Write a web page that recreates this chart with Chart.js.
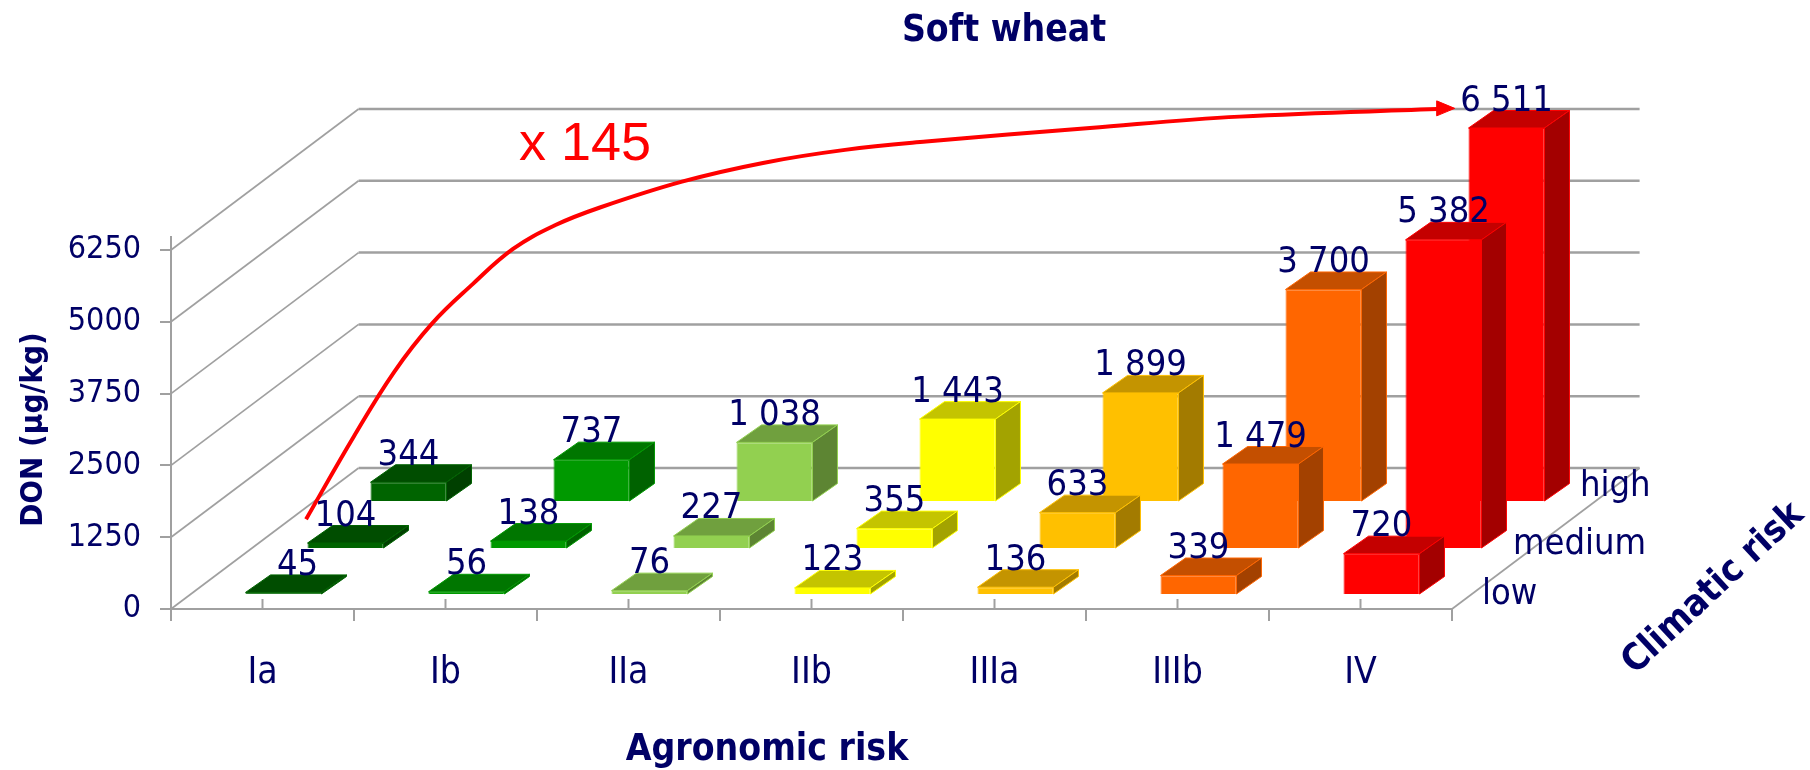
<!DOCTYPE html>
<html>
<head>
<meta charset="utf-8">
<title>Soft wheat</title>
<script src="https://cdn.jsdelivr.net/npm/chart.js@4/dist/chart.umd.min.js"></script>
<style>
  html, body { margin: 0; background: #fff; }
  canvas { display: block; }
</style>
</head>
<body>
<canvas id="wheatChart" width="1810" height="770"></canvas>
<script>
// ====== Data ======
const categories = ["Ia", "Ib", "IIa", "IIb", "IIIa", "IIIb", "IV"];
const climaticLevels = ["low", "medium", "high"];
const lowValues = [45, 56, 76, 123, 136, 339, 720];
const mediumValues = [104, 138, 227, 355, 633, 1479, 5382];
const highValues = [344, 737, 1038, 1443, 1899, 3700, 6511];
const categoryColors = ["#006400", "#009900", "#92D050", "#FFFF00", "#FFC000", "#FF6600", "#FF0000"];

// red "x 145" trend: category position / DON level
const curveX = [0.238, 0.5, 0.72, 0.926, 1.15, 1.369, 1.598, 1.844, 2.292, 2.735, 3.183, 3.626, 4.522, 5.339, 6.46];
const curveY = [1563, 3009, 4130, 4968, 5660, 6268, 6680, 6990, 7440, 7766, 7993, 8138, 8375, 8572, 8707];

const NAVY = "#000066";
const GREY = "#a0a0a0";
const TEXT_FONT = '"DejaVu Sans Condensed", "DejaVu Sans", sans-serif';

// depth of the fake 3D box
const wallDx = 187.6, wallDy = -141;
const barDx = 25, barDy = -17.5;
const seriesShift = [[21, -14], [83, -60], [146, -107]];

function shade(hex, k) {
  const n = parseInt(hex.slice(1), 16);
  const c = [n >> 16, (n >> 8) & 255, n & 255].map(v => Math.round(v * k));
  return `rgb(${c[0]},${c[1]},${c[2]})`;
}

function poly(ctx, pts, fill, stroke) {
  ctx.beginPath();
  pts.forEach((p, i) => i ? ctx.lineTo(p[0], p[1]) : ctx.moveTo(p[0], p[1]));
  ctx.closePath();
  ctx.fillStyle = fill;
  ctx.fill();
  ctx.strokeStyle = stroke;
  ctx.lineWidth = 1;
  ctx.stroke();
}

function line(ctx, x1, y1, x2, y2) {
  ctx.beginPath();
  ctx.moveTo(x1, y1);
  ctx.lineTo(x2, y2);
  ctx.stroke();
}

function text(ctx, str, x, y, font, color, align) {
  ctx.font = font;
  ctx.fillStyle = color;
  ctx.textAlign = align || "center";
  ctx.textBaseline = "alphabetic";
  ctx.fillText(str, x, y);
}

const fmt = v => String(v).replace(/\B(?=(\d{3})+$)/g, " ");

// ====== Walls, floor and extra axis marks ======
const box3d = {
  id: "box3d",
  beforeDatasetsDraw(chart) {
    const { ctx, chartArea: a } = chart;
    const yScale = chart.scales.y, xScale = chart.scales.x;
    ctx.save();
    ctx.strokeStyle = GREY;
    yScale.ticks.forEach(t => {
      const y = yScale.getPixelForValue(t.value);
      ctx.lineWidth = 1.7;
      line(ctx, a.left, y, a.left + wallDx, y + wallDy);
      ctx.lineWidth = 2.5;
      line(ctx, a.left + wallDx, y + wallDy, a.right + wallDx, y + wallDy);
    });
    ctx.lineWidth = 1.7;
    line(ctx, a.right, a.bottom, a.right + wallDx, a.bottom + wallDy);
    ctx.lineWidth = 2;
    line(ctx, a.left, a.top - 14, a.left, a.top);
    categories.forEach((c, i) => {
      const x = xScale.getPixelForTick(i);
      line(ctx, x, a.bottom, x, a.bottom - 10);
    });
    ctx.restore();
  },
  // each series sits at its own depth
  beforeDatasetDraw(chart, args) {
    if (args.meta.type !== "bar") return;
    const s = seriesShift[args.index];
    chart.ctx.save();
    chart.ctx.translate(s[0], s[1]);
  },
  afterDatasetDraw(chart, args) {
    if (args.meta.type !== "bar") return;
    const ctx = chart.ctx;
    args.meta.data.forEach((bar, i) => {
      const col = categoryColors[i];
      const l = bar.x - bar.width / 2, r = bar.x + bar.width / 2;
      poly(ctx, [[l, bar.y], [r, bar.y], [r + barDx, bar.y + barDy], [l + barDx, bar.y + barDy]], shade(col, 0.77), col);
      poly(ctx, [[r, bar.y], [r + barDx, bar.y + barDy], [r + barDx, bar.base + barDy], [r, bar.base]], shade(col, 0.64), col);
    });
    ctx.restore();
  },
  afterDatasetsDraw(chart) {
    const { ctx, chartArea: a } = chart;
    const labelFont = "36px " + TEXT_FONT;
    ctx.save();
    // value labels above the bars
    [0, 1, 2].forEach(si => {
      const s = seriesShift[si];
      chart.getDatasetMeta(si).data.forEach((bar, i) => {
        const v = chart.data.datasets[si].data[i];
        const nudge = v === 45 ? 14 : 0; // this one sits off centre in the original
        text(ctx, fmt(v), bar.x + s[0] + nudge, bar.y + s[1] + barDy, labelFont, NAVY);
      });
    });
    // arrow head at the end of the trend (points outside the chart area are not drawn)
    const tip = chart.getDatasetMeta(3).data[curveX.length - 1];
    poly(ctx, [[tip.x + 10, tip.y - 0.5], [tip.x - 8, tip.y - 8], [tip.x - 8, tip.y + 7]], "#FF0000", "#FF0000");

    // climatic risk levels along the depth axis
    const levelFont = "36px " + TEXT_FONT;
    text(ctx, climaticLevels[0], a.right + 30, a.bottom - 5, levelFont, NAVY, "left");
    text(ctx, climaticLevels[1], a.right + 61, a.bottom - 55, levelFont, NAVY, "left");
    text(ctx, climaticLevels[2], a.right + 128, a.bottom - 113, levelFont, NAVY, "left");

    const boldFont = 'bold 37px "DejaVu Sans Condensed", "DejaVu Sans", sans-serif';
    text(ctx, "Soft wheat", 1004, 41, boldFont, NAVY);
    text(ctx, "Agronomic risk", 767, 760, boldFont, NAVY);
    text(ctx, "x 145", 519, 160, '54px "Liberation Sans", Arial, sans-serif', "#FF0000", "left");

    ctx.translate(1720, 596);
    ctx.rotate(-43 * Math.PI / 180);
    text(ctx, "Climatic risk", 0, 0, boldFont, NAVY);
    ctx.restore();
  }
};

// ====== Chart ======
const barSeries = [lowValues, mediumValues, highValues].map((values, i) => ({
  label: climaticLevels[i],
  data: values,
  backgroundColor: categoryColors,
  borderColor: categoryColors,
  borderWidth: 1,
  grouped: false,
  barPercentage: 0.415,
  categoryPercentage: 1,
  clip: false,
  order: i + 1
}));

new Chart(document.getElementById("wheatChart").getContext("2d"), {
  type: "bar",
  data: {
    labels: categories,
    datasets: [
      ...barSeries,
      {
        type: "line",
        label: "x 145",
        xAxisID: "xCurve",
        data: curveX.map((x, i) => ({ x: x, y: curveY[i] })),
        borderColor: "#FF0000",
        backgroundColor: "#FF0000",
        borderWidth: 4,
        tension: 0.4,
        pointRadius: 0,
        clip: false,
        order: 0
      }
    ]
  },
  plugins: [box3d],
  options: {
    responsive: false,
    animation: false,
    layout: { padding: { left: 0, top: 250, right: 358, bottom: 0 } },
    plugins: {
      legend: { display: false },
      title: { display: false },
      tooltip: { enabled: false }
    },
    scales: {
      x: {
        position: "bottom",
        afterFit: s => { s.height = 161; },
        grid: { drawOnChartArea: false, color: GREY, lineWidth: 2, tickLength: 12, offset: true },
        border: { color: GREY, width: 2 },
        ticks: { color: NAVY, padding: 30, maxRotation: 0, font: { size: 37, family: TEXT_FONT } }
      },
      // same span as the category axis, no marks of its own
      xCurve: {
        type: "linear",
        position: "bottom",
        min: -0.5,
        max: 6.5,
        offset: false,
        afterFit: s => { s.height = 0; },
        grid: { display: false },
        border: { display: false },
        ticks: { display: false }
      },
      y: {
        min: 0,
        max: 6250,
        afterFit: s => { s.width = 171; },
        grid: { drawOnChartArea: false, color: GREY, lineWidth: 2, tickLength: 11 },
        border: { color: GREY, width: 2 },
        ticks: {
          stepSize: 1250,
          color: NAVY,
          padding: 19,
          font: { size: 32, family: TEXT_FONT },
          callback: v => String(v)
        },
        title: {
          display: true,
          text: "DON (µg/kg)",
          color: NAVY,
          padding: { top: 15, bottom: 0 },
          font: { size: 31, weight: "bold", family: TEXT_FONT }
        }
      }
    }
  }
});
</script>
</body>
</html>
